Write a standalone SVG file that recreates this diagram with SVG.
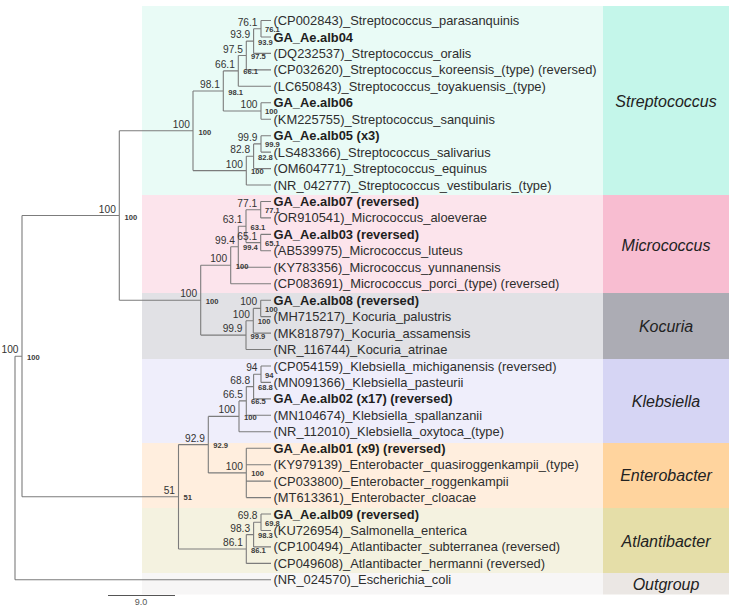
<svg xmlns="http://www.w3.org/2000/svg" width="734" height="610" viewBox="0 0 734 610">
  <defs>
    <style>
      .leaf { font-family: "Liberation Sans", Arial, sans-serif; font-size: 12.9px; fill: #2e2e2e; }
      .iso { font-weight: bold; fill: #1e1e1e; }
      .bs { font-family: "Liberation Sans", Arial, sans-serif; font-size: 10.2px; fill: #333; text-anchor: end; }
      .bs2 { font-family: "Liberation Sans", Arial, sans-serif; font-size: 7.6px; font-weight: bold; fill: #3a3a3a; }
      .genus { font-family: "Liberation Sans", Arial, sans-serif; font-size: 16px; font-style: italic; fill: #222; text-anchor: middle; }
      .edge { fill: none; stroke: #7c7c7c; stroke-width: 1.1; }
      .scale { font-family: "Liberation Sans", Arial, sans-serif; font-size: 9px; fill: #555; text-anchor: middle; }
    </style>
  </defs>
  <rect width="734" height="610" fill="#ffffff"/>

  <!-- genus bands: light strip behind the tips, stronger strip holding the genus name -->
  <g id="band-streptococcus">
    <rect x="142" y="6" width="461" height="189" fill="#E9FBF6"/>
    <rect x="603" y="6" width="126" height="189" fill="#C4F6EA"/>
    <text class="genus" x="666" y="107">Streptococcus</text>
  </g>
  <g id="band-micrococcus">
    <rect x="142" y="195" width="461" height="98" fill="#FCE4EC"/>
    <rect x="603" y="195" width="126" height="98" fill="#F8BDD1"/>
    <text class="genus" x="666" y="250.5">Micrococcus</text>
  </g>
  <g id="band-kocuria">
    <rect x="142" y="293" width="461" height="66" fill="#E1E1E5"/>
    <rect x="603" y="293" width="126" height="66" fill="#ACACB4"/>
    <text class="genus" x="666" y="332">Kocuria</text>
  </g>
  <g id="band-klebsiella">
    <rect x="142" y="359" width="461" height="84" fill="#EFEEFB"/>
    <rect x="603" y="359" width="126" height="84" fill="#D6D5F4"/>
    <text class="genus" x="666" y="406.5">Klebsiella</text>
  </g>
  <g id="band-enterobacter">
    <rect x="142" y="443" width="461" height="65" fill="#FFEEDE"/>
    <rect x="603" y="443" width="126" height="65" fill="#FFD49E"/>
    <text class="genus" x="666" y="481">Enterobacter</text>
  </g>
  <g id="band-atlantibacter">
    <rect x="142" y="508" width="461" height="65" fill="#F4F2E0"/>
    <rect x="603" y="508" width="126" height="65" fill="#E5DEA8"/>
    <text class="genus" x="666" y="546.5">Atlantibacter</text>
  </g>
  <g id="band-outgroup">
    <rect x="142" y="573" width="461" height="21.5" fill="#F7F6F6"/>
    <rect x="603" y="573" width="126" height="21.5" fill="#EBE7E4"/>
    <text class="genus" x="666" y="590">Outgroup</text>
  </g>

  <!-- branches -->
  <g id="connectors" class="edge">
    <path d="M15 356.2V579.8 M15 356.2H22 M15 579.8H271
             M22 215.5V496.8 M22 215.5H119.3 M22 496.8H178.5
             M119.3 130.8V300.2 M119.3 130.8H193 M119.3 300.2H200.7
             M193 91V170.6 M193 91H223.3 M193 170.6H246.3
             M223.3 70.9V111 M223.3 70.9H238.3 M223.3 111H261
             M238.3 55.5V86.3 M238.3 55.5H246.3 M238.3 86.3H271
             M246.3 41.1V69.9 M246.3 41.1H253.6 M246.3 69.9H271
             M253.6 28.8V53.4 M253.6 28.8H261 M253.6 53.4H271
             M261 20.5V37 M261 20.5H271 M261 37H271
             M261 102.8V119.2 M261 102.8H271 M261 119.2H271
             M246.3 156.3V185 M246.3 156.3H253.6 M246.3 185H271
             M253.6 143.9V168.6 M253.6 143.9H261 M253.6 168.6H271
             M261 135.7V152.1 M261 135.7H271 M261 152.1H271
             M200.7 265.2V335.1 M200.7 265.2H230.7 M200.7 335.1H246
             M230.7 246.7V283.7 M230.7 246.7H238.3 M230.7 283.7H271
             M238.3 226.2V267.3 M238.3 226.2H246 M238.3 267.3H271
             M246 209.7V242.6 M246 209.7H260.7 M246 242.6H260.7
             M260.7 201.5V217.9 M260.7 201.5H271 M260.7 217.9H271
             M260.7 234.4V250.8 M260.7 234.4H271 M260.7 250.8H271
             M246 320.8V349.5 M246 320.8H253.3 M246 349.5H271
             M253.3 308.4V333.1 M253.3 308.4H260.7 M253.3 333.1H271
             M260.7 300.2V316.6 M260.7 300.2H271 M260.7 316.6H271
             M178.5 444.6V549 M178.5 444.6H208.3 M178.5 549H246.3
             M208.3 416.4V472.9 M208.3 416.4H239 M208.3 472.9H246.3
             M239 400.9V431.8 M239 400.9H246.3 M239 431.8H271
             M246.3 386.6V415.3 M246.3 386.6H253.6 M246.3 415.3H271
             M253.6 374.2V398.9 M253.6 374.2H261 M253.6 398.9H271
             M261 366V382.4 M261 366H271 M261 382.4H271
             M246.3 448.2V497.6 M246.3 448.2H271 M246.3 464.7H271 M246.3 481.1H271 M246.3 497.6H271
             M246.3 534.6V563.4 M246.3 534.6H253.6 M246.3 563.4H271
             M253.6 522.3V546.9 M253.6 522.3H261 M253.6 546.9H271
             M261 514V530.5 M261 514H271 M261 530.5H271"/>
  </g>

  <!-- internal nodes: support value above the incoming branch, repeated small beside the node -->
  <g id="n-ingroup"><text class="bs" x="18.5" y="353.2">100</text><text class="bs2" x="27" y="360">100</text></g>
  <g id="n-grampos"><text class="bs" x="115.8" y="212.5">100</text><text class="bs2" x="124.5" y="219.5">100</text></g>
  <g id="n-strep"><text class="bs" x="189.8" y="128.3">100</text><text class="bs2" x="198.5" y="134.6">100</text></g>
  <g id="n-strep-a"><text class="bs" x="219.8" y="88">98.1</text><text class="bs2" x="228.3" y="94.5">98.1</text></g>
  <g id="n-strep-c"><text class="bs" x="234.8" y="67.9">66.1</text><text class="bs2" x="243.3" y="74.4">66.1</text></g>
  <g id="n-strep-e"><text class="bs" x="242.8" y="52.5">97.5</text><text class="bs2" x="251" y="59">97.5</text></g>
  <g id="n-strep-f"><text class="bs" x="250.1" y="38.1">93.9</text><text class="bs2" x="258" y="44.6">93.9</text></g>
  <g id="n-strep-g"><text class="bs" x="257.5" y="25.8">76.1</text><text class="bs2" x="265" y="32">76.1</text></g>
  <g id="n-strep-d"><text class="bs" x="257.5" y="108">100</text><text class="bs2" x="265" y="114.3">100</text></g>
  <g id="n-strep-b"><text class="bs" x="242.8" y="167.6">100</text><text class="bs2" x="251" y="174.1">100</text></g>
  <g id="n-strep-i"><text class="bs" x="250.1" y="153.3">82.8</text><text class="bs2" x="258" y="159.8">82.8</text></g>
  <g id="n-strep-h"><text class="bs" x="257.5" y="140.9">99.9</text><text class="bs2" x="265" y="147.2">99.9</text></g>
  <g id="n-actino"><text class="bs" x="197.2" y="297.2">100</text><text class="bs2" x="205.7" y="303.7">100</text></g>
  <g id="n-micro"><text class="bs" x="227.2" y="262.2">100</text><text class="bs2" x="235.7" y="268.7">100</text></g>
  <g id="n-micro-4"><text class="bs" x="234.8" y="243.7">99.4</text><text class="bs2" x="243" y="250.2">99.4</text></g>
  <g id="n-micro-3"><text class="bs" x="242.5" y="223.2">63.1</text><text class="bs2" x="250.5" y="229.7">63.1</text></g>
  <g id="n-micro-1"><text class="bs" x="257.2" y="206.7">77.1</text><text class="bs2" x="265" y="213">77.1</text></g>
  <g id="n-micro-2"><text class="bs" x="257.2" y="239.6">65.1</text><text class="bs2" x="265" y="245.9">65.1</text></g>
  <g id="n-kocuria"><text class="bs" x="242.5" y="332.1">99.9</text><text class="bs2" x="250.5" y="338.6">99.9</text></g>
  <g id="n-kocuria-2"><text class="bs" x="249.8" y="317.8">100</text><text class="bs2" x="257.8" y="324.3">100</text></g>
  <g id="n-kocuria-1"><text class="bs" x="257.2" y="305.4">100</text><text class="bs2" x="265" y="311.7">100</text></g>
  <g id="n-entero-all"><text class="bs" x="175" y="493.8">51</text><text class="bs2" x="183.5" y="500.3">51</text></g>
  <g id="n-kleb-entero"><text class="bs" x="204.8" y="441.6">92.9</text><text class="bs2" x="213.3" y="448.1">92.9</text></g>
  <g id="n-kleb"><text class="bs" x="235.5" y="413.4">100</text><text class="bs2" x="244" y="419.9">100</text></g>
  <g id="n-kleb-3"><text class="bs" x="242.8" y="397.9">66.5</text><text class="bs2" x="251" y="404.4">66.5</text></g>
  <g id="n-kleb-2"><text class="bs" x="250.1" y="383.6">68.8</text><text class="bs2" x="258" y="390.1">68.8</text></g>
  <g id="n-kleb-1"><text class="bs" x="257.5" y="371.2">94</text><text class="bs2" x="265" y="377.5">94</text></g>
  <g id="n-enterobacter"><text class="bs" x="242.8" y="469.9">100</text><text class="bs2" x="251.3" y="476.4">100</text></g>
  <g id="n-atlanti"><text class="bs" x="242.8" y="546">86.1</text><text class="bs2" x="251" y="552.5">86.1</text></g>
  <g id="n-atlanti-2"><text class="bs" x="250.1" y="531.6">98.3</text><text class="bs2" x="258" y="538.1">98.3</text></g>
  <g id="n-atlanti-1"><text class="bs" x="257.5" y="519.3">69.8</text><text class="bs2" x="265" y="525.6">69.8</text></g>

  <!-- tips -->
  <g id="t-cp002843"><text class="leaf" x="273.5" y="25">(CP002843)_Streptococcus_parasanquinis</text></g>
  <g id="t-alb04"><text class="leaf iso" x="273.5" y="41.5">GA_Ae.alb04</text></g>
  <g id="t-dq232537"><text class="leaf" x="273.5" y="57.9">(DQ232537)_Streptococcus_oralis</text></g>
  <g id="t-cp032620"><text class="leaf" x="273.5" y="74.4">(CP032620)_Streptococcus_koreensis_(type) (reversed)</text></g>
  <g id="t-lc650843"><text class="leaf" x="273.5" y="90.8">(LC650843)_Streptococcus_toyakuensis_(type)</text></g>
  <g id="t-alb06"><text class="leaf iso" x="273.5" y="107.3">GA_Ae.alb06</text></g>
  <g id="t-km225755"><text class="leaf" x="273.5" y="123.7">(KM225755)_Streptococcus_sanquinis</text></g>
  <g id="t-alb05"><text class="leaf iso" x="273.5" y="140.2">GA_Ae.alb05 (x3)</text></g>
  <g id="t-ls483366"><text class="leaf" x="273.5" y="156.6">(LS483366)_Streptococcus_salivarius</text></g>
  <g id="t-om604771"><text class="leaf" x="273.5" y="173.1">(OM604771)_Streptococcus_equinus</text></g>
  <g id="t-nr042777"><text class="leaf" x="273.5" y="189.5">(NR_042777)_Streptococcus_vestibularis_(type)</text></g>
  <g id="t-alb07"><text class="leaf iso" x="273.5" y="206">GA_Ae.alb07 (reversed)</text></g>
  <g id="t-or910541"><text class="leaf" x="273.5" y="222.4">(OR910541)_Micrococcus_aloeverae</text></g>
  <g id="t-alb03"><text class="leaf iso" x="273.5" y="238.9">GA_Ae.alb03 (reversed)</text></g>
  <g id="t-ab539975"><text class="leaf" x="273.5" y="255.3">(AB539975)_Micrococcus_luteus</text></g>
  <g id="t-ky783356"><text class="leaf" x="273.5" y="271.8">(KY783356)_Micrococcus_yunnanensis</text></g>
  <g id="t-cp083691"><text class="leaf" x="273.5" y="288.2">(CP083691)_Micrococcus_porci_(type) (reversed)</text></g>
  <g id="t-alb08"><text class="leaf iso" x="273.5" y="304.7">GA_Ae.alb08 (reversed)</text></g>
  <g id="t-mh715217"><text class="leaf" x="273.5" y="321.1">(MH715217)_Kocuria_palustris</text></g>
  <g id="t-mk818797"><text class="leaf" x="273.5" y="337.6">(MK818797)_Kocuria_assamensis</text></g>
  <g id="t-nr116744"><text class="leaf" x="273.5" y="354">(NR_116744)_Kocuria_atrinae</text></g>
  <g id="t-cp054159"><text class="leaf" x="273.5" y="370.5">(CP054159)_Klebsiella_michiganensis (reversed)</text></g>
  <g id="t-mn091366"><text class="leaf" x="273.5" y="386.9">(MN091366)_Klebsiella_pasteurii</text></g>
  <g id="t-alb02"><text class="leaf iso" x="273.5" y="403.4">GA_Ae.alb02 (x17) (reversed)</text></g>
  <g id="t-mn104674"><text class="leaf" x="273.5" y="419.8">(MN104674)_Klebsiella_spallanzanii</text></g>
  <g id="t-nr112010"><text class="leaf" x="273.5" y="436.3">(NR_112010)_Klebsiella_oxytoca_(type)</text></g>
  <g id="t-alb01"><text class="leaf iso" x="273.5" y="452.7">GA_Ae.alb01 (x9) (reversed)</text></g>
  <g id="t-ky979139"><text class="leaf" x="273.5" y="469.2">(KY979139)_Enterobacter_quasiroggenkampii_(type)</text></g>
  <g id="t-cp033800"><text class="leaf" x="273.5" y="485.6">(CP033800)_Enterobacter_roggenkampii</text></g>
  <g id="t-mt613361"><text class="leaf" x="273.5" y="502.1">(MT613361)_Enterobacter_cloacae</text></g>
  <g id="t-alb09"><text class="leaf iso" x="273.5" y="518.5">GA_Ae.alb09 (reversed)</text></g>
  <g id="t-ku726954"><text class="leaf" x="273.5" y="535">(KU726954)_Salmonella_enterica</text></g>
  <g id="t-cp100494"><text class="leaf" x="273.5" y="551.4">(CP100494)_Atlantibacter_subterranea (reversed)</text></g>
  <g id="t-cp049608"><text class="leaf" x="273.5" y="567.9">(CP049608)_Atlantibacter_hermanni (reversed)</text></g>
  <g id="t-nr024570"><text class="leaf" x="273.5" y="584.3">(NR_024570)_Escherichia_coli</text></g>

  <!-- scale bar -->
  <g id="scale-bar">
    <path d="M108 595.5H175" stroke="#555" stroke-width="1.2"/>
    <text class="scale" x="141" y="605">9.0</text>
  </g>
</svg>
